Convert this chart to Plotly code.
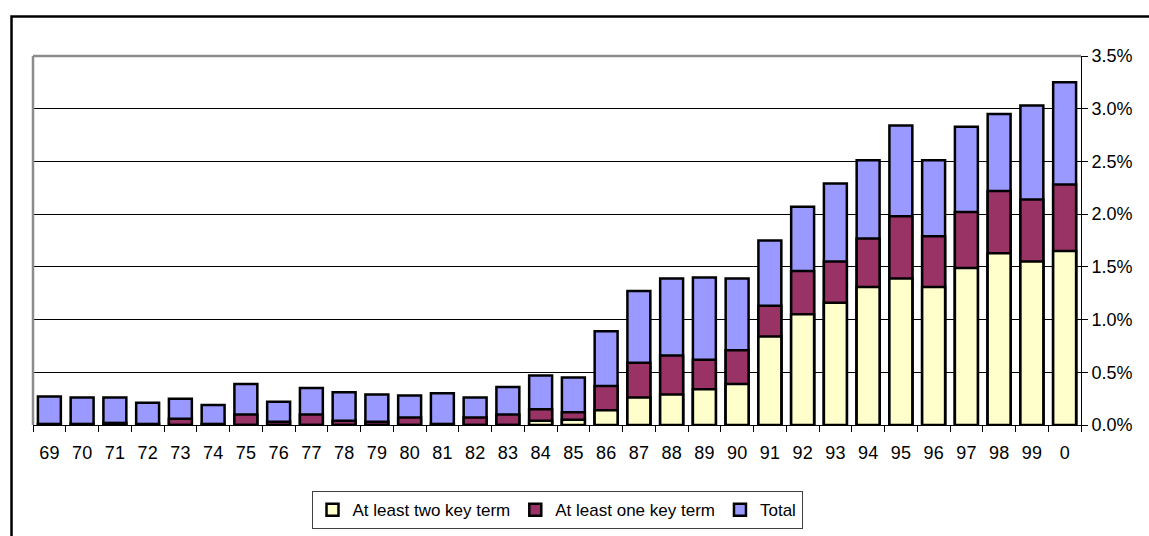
import plotly.graph_objects as go

# Publication year (two-digit, 2000 shown as "0")
years = ["69", "70", "71", "72", "73", "74", "75", "76", "77", "78", "79",
         "80", "81", "82", "83", "84", "85", "86", "87", "88", "89", "90",
         "91", "92", "93", "94", "95", "96", "97", "98", "99", "0"]

# Share of papers, in percent
total = [0.27, 0.26, 0.26, 0.21, 0.25, 0.19, 0.39, 0.22, 0.35, 0.31, 0.29,
         0.28, 0.30, 0.26, 0.36, 0.47, 0.45, 0.89, 1.27, 1.39, 1.40, 1.39,
         1.75, 2.07, 2.29, 2.51, 2.84, 2.51, 2.83, 2.95, 3.03, 3.25]
at_least_one = [0.01, 0.01, 0.02, 0.01, 0.06, 0.01, 0.10, 0.03, 0.10, 0.04, 0.03,
                0.07, 0.01, 0.07, 0.10, 0.15, 0.12, 0.37, 0.59, 0.66, 0.62, 0.71,
                1.13, 1.46, 1.55, 1.77, 1.98, 1.79, 2.02, 2.22, 2.14, 2.28]
at_least_two = [0.0, 0.0, 0.0, 0.0, 0.0, 0.0, 0.0, 0.0, 0.0, 0.0, 0.0,
                0.0, 0.0, 0.0, 0.0, 0.04, 0.05, 0.14, 0.26, 0.29, 0.34, 0.39,
                0.84, 1.05, 1.16, 1.31, 1.39, 1.31, 1.49, 1.63, 1.55, 1.65]

y_ticks = [0.0, 0.5, 1.0, 1.5, 2.0, 2.5, 3.0, 3.5]
y_tick_labels = ["0.0%", "0.5%", "1.0%", "1.5%", "2.0%", "2.5%", "3.0%", "3.5%"]

outline = dict(color="black", width=2.5)

fig = go.Figure()
fig.add_trace(go.Bar(x=years, y=total, name="Total",
                     marker=dict(color="#9999FF", line=outline)))
fig.add_trace(go.Bar(x=years, y=at_least_one, name="At least one key term",
                     marker=dict(color="#993366", line=outline)))
fig.add_trace(go.Bar(x=years, y=at_least_two, name="At least two key term",
                     marker=dict(color="#FFFFCC", line=outline)))

font = dict(family="Liberation Sans, Arial, sans-serif", size=18, color="black")
legend_font = dict(family="Liberation Sans, Arial, sans-serif", size=17, color="black")

fig.update_layout(
    width=1149, height=536,
    margin=dict(l=33, r=68, t=56, b=111, autoexpand=False),
    paper_bgcolor="white", plot_bgcolor="white",
    barmode="overlay", bargap=0.3,
    font=font,
    showlegend=True,
    legend=dict(orientation="h", traceorder="reversed",
                xref="paper", x=0.5, xanchor="center",
                yref="container", y=0.048, yanchor="middle",
                bordercolor="#404040", borderwidth=1, bgcolor="white",
                font=legend_font, itemwidth=30, tracegroupgap=0),
    xaxis=dict(type="category", showgrid=False, showline=True,
               linecolor="black", linewidth=1, automargin=False,
               ticks="outside", tickson="boundaries", ticklen=6,
               tickcolor="black", ticklabelstandoff=11, tickfont=font),
    yaxis=dict(side="right", range=[0, 3.5], tickvals=y_ticks,
               ticktext=y_tick_labels, automargin=False,
               showgrid=True, gridcolor="black", gridwidth=1,
               showline=True, linecolor="black", linewidth=1,
               ticks="outside", ticklen=6, tickcolor="black",
               tickfont=font, zeroline=False),
    shapes=[
        # plot area frame (top and left edges in grey)
        dict(type="line", xref="paper", yref="paper", x0=0, x1=1, y0=1, y1=1,
             line=dict(color="#8c8c8c", width=2.5), layer="above"),
        dict(type="line", xref="paper", yref="paper", x0=0, x1=0, y0=0, y1=1,
             line=dict(color="#8c8c8c", width=2.5), layer="above"),
        # outer chart frame
        dict(type="rect", xref="paper", yref="paper",
             x0=-0.0205, x1=1.1, y0=1.107, y1=-0.35,
             line=dict(color="black", width=2.5), fillcolor="rgba(0,0,0,0)"),
    ],
)

fig.write_html("out.html")
